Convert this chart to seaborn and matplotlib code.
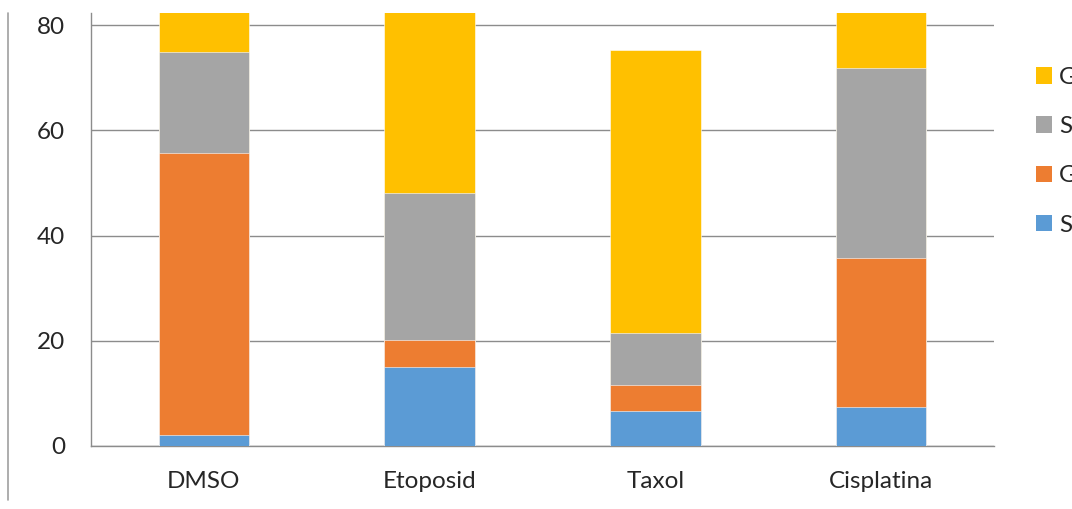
import numpy as np
import pandas as pd
import matplotlib
matplotlib.use("Agg")
import matplotlib.pyplot as plt
from matplotlib.lines import Line2D
from matplotlib.patches import Patch
import seaborn as sns

categories = ["DMSO", "Etoposid", "Taxol", "Cisplatina"]
sub_g1 = [2.1, 15.0, 6.6, 7.4]
g0_g1 = [53.6, 5.2, 5.0, 28.3]
s_phase = [19.2, 27.9, 9.9, 36.2]
g2_m = [25.1, 51.9, 53.8, 28.1]
series_names = ["SubG1", "G0/G1", "S", "G2/M"]
colors = ["#5B9BD5", "#ED7D31", "#A5A5A5", "#FFC000"]
yticks = [0, 20, 40, 60, 80]

sns.set_style("white")
plt.rcParams["font.family"] = ["Lato", "DejaVu Sans"]
FS = 17.5

fig = plt.figure(figsize=(10.72, 5.09), dpi=100)
ax = fig.add_axes([91/1072, 63/509, 903/1072, 433/509])

series = [sub_g1, g0_g1, s_phase, g2_m]
cum = np.cumsum(np.array(series), axis=0)
# draw from tallest cumulative down
for i in range(len(series) - 1, -1, -1):
    df = pd.DataFrame({"cat": categories, "val": cum[i]})
    sns.barplot(data=df, x="cat", y="val", color=colors[i], width=0.4,
                saturation=1, ax=ax, edgecolor="white", linewidth=0.4, zorder=3)

ax.set_ylim(0, 82.3)
ax.set_xlim(-0.5, 3.5)
ax.set_yticks(yticks)
ax.set_yticklabels([str(t) for t in yticks], fontsize=FS)
ax.yaxis.grid(True, color="#8C8C8C", linewidth=1.0, zorder=0)
ax.set_axisbelow(True)
ax.set_xlabel("")
ax.set_ylabel("")
for s in ["top", "right"]:
    ax.spines[s].set_visible(False)
for s in ["left", "bottom"]:
    ax.spines[s].set_color("#8C8C8C")
    ax.spines[s].set_linewidth(1.0)
ax.tick_params(axis="y", length=5.8, width=1, color="#8C8C8C", pad=13, direction="out")
ax.tick_params(axis="x", which="major", length=0, pad=18, labelsize=FS)
ax.set_xticks(np.arange(-0.5, 3.6, 1.0), minor=True)
ax.tick_params(axis="x", which="minor", length=6.5, width=1, color="#8C8C8C", direction="out")

handles = [Patch(facecolor=colors[i], edgecolor="none") for i in range(3, -1, -1)]
labels = [series_names[i] for i in range(3, -1, -1)]
fig.legend(handles, labels, loc="upper left", bbox_to_anchor=(1036/1072, 1 - 67/509),
           frameon=False, fontsize=FS, handlelength=0.66, handleheight=0.66,
           handletextpad=0.28, labelspacing=1.16, borderaxespad=0, borderpad=0)

fig.add_artist(Line2D([8/1072, 8/1072], [1 - 13/509, 1 - 500/509],
                      transform=fig.transFigure, color="#A0A0A0", linewidth=1.2))

fig.savefig("out.png", dpi=100)
